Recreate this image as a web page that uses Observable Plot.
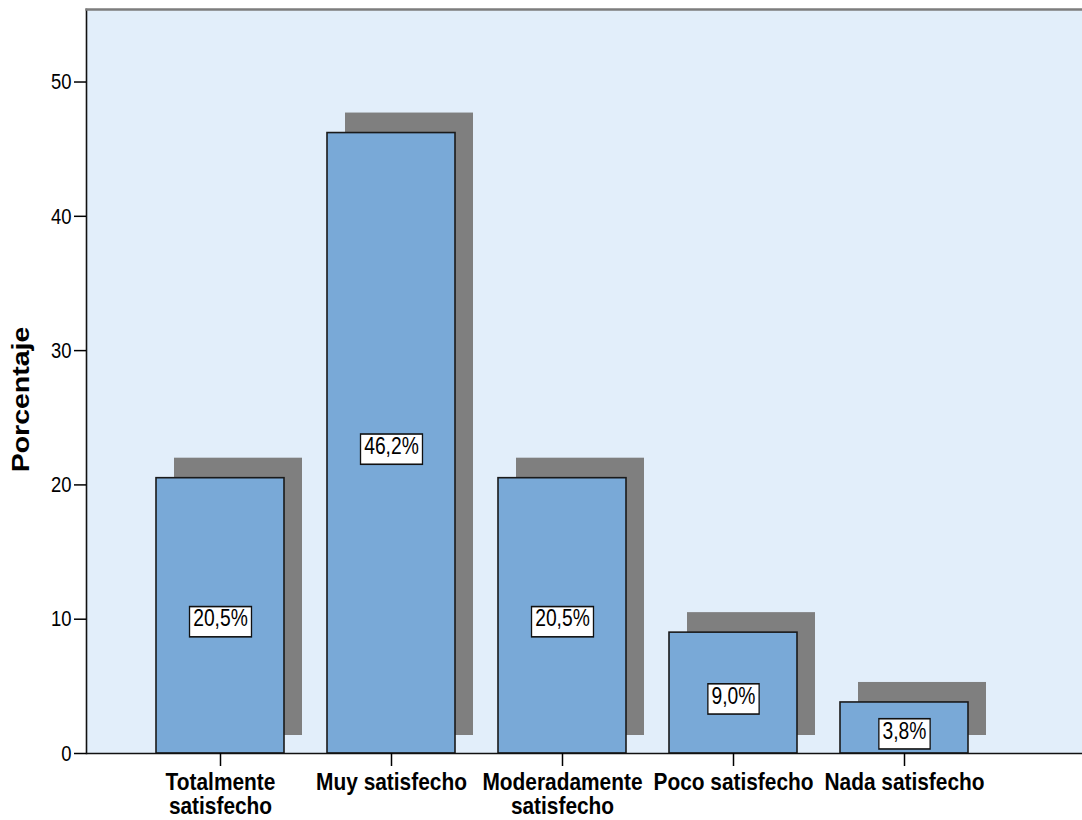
<!DOCTYPE html>
<html>
<head>
<meta charset="utf-8">
<script src="https://cdn.jsdelivr.net/npm/d3@7"></script>
<script src="https://cdn.jsdelivr.net/npm/@observablehq/plot@0.6"></script>
<style>
  html, body { margin: 0; padding: 0; background: #ffffff; }
  #chart svg { display: block; }
</style>
</head>
<body>
<div id="chart"></div>
<script>
// Nivel de satisfacción (porcentaje de respuestas)
const categories = [
  "Totalmente satisfecho",
  "Muy satisfecho",
  "Moderadamente satisfecho",
  "Poco satisfecho",
  "Nada satisfecho"
];
const tickLabels = [
  "Totalmente\nsatisfecho",
  "Muy satisfecho",
  "Moderadamente\nsatisfecho",
  "Poco satisfecho",
  "Nada satisfecho"
];
const percentages = [20.5, 46.2, 20.5, 9.0, 3.8];
const yTicks = [0, 10, 20, 30, 40, 50];

const data = categories.map((c, i) => ({ categoria: c, porcentaje: percentages[i] }));
const fmtPct = v => d3.format(".1f")(v).replace(".", ",") + "%";

const sans = "'Liberation Sans', Arial, Helvetica, sans-serif";

const chart = Plot.plot({
  width: 1082,
  height: 820,
  marginLeft: 86,
  marginRight: 0,
  marginTop: 9,
  marginBottom: 67,
  style: { fontFamily: sans, background: "#ffffff", color: "#000000", overflow: "visible" },
  x: { domain: categories, range: [86, 1037], paddingInner: 0.253, paddingOuter: 0.403, label: null },
  y: { domain: [0, 55.4], label: null },
  marks: [
    Plot.frame({ fill: "#e2eefa", stroke: null }),
    // drop shadow behind each bar
    Plot.barY(data, { x: "categoria", y: "porcentaje", fill: "#7f7f7f", dx: 18, dy: -18, insetTop: -2 }),
    Plot.barY(data, { x: "categoria", y: "porcentaje", fill: "#79a9d7", stroke: "#1a1a1a", strokeWidth: 1.6 }),
    Plot.ruleY([0], { stroke: "#111111", strokeWidth: 1.6 }),
    Plot.frame({ anchor: "left", stroke: "#111111", strokeWidth: 1.6 }),
    Plot.frame({ anchor: "top", stroke: "#7d7d7d", strokeWidth: 2.5 }),
    Plot.axisY({ ticks: yTicks, tickSize: 12, tickPadding: 3, fontSize: 22.5, strokeWidth: 1.5, tickFormat: d => d, label: null }),
    Plot.axisX({
      tickSize: 13, tickPadding: 7, fontSize: 24, fontWeight: "bold", lineHeight: 0.98, strokeWidth: 1.5,
      tickFormat: c => tickLabels[categories.indexOf(c)], label: null
    }),
    Plot.text(data, {
      x: "categoria", y: d => d.porcentaje / 2, text: d => fmtPct(d.porcentaje),
      dy: 3, fontSize: 23.5, fill: "#000000"
    }),
    Plot.text(["Porcentaje"], {
      text: d => d, frameAnchor: "left", textAnchor: "middle", dx: -65, dy: 18, rotate: -90,
      fontWeight: "bold", fontSize: 28.5, fill: "#000000"
    })
  ]
});

document.getElementById("chart").append(chart);

// narrow lettering: squeeze every text horizontally about its anchor
d3.select(chart).selectAll("text").each(function () {
  const sx = /satisfecho/.test(this.textContent) ? 0.87 : 0.82;
  const t = this.getAttribute("transform");
  if (t && t.includes("rotate(")) {
    this.setAttribute("transform", t.replace("rotate(", `scale(${sx},1) rotate(`));
  } else if (t) {
    this.setAttribute("transform", `${t} scale(${sx},1)`);
  } else {
    const x = +this.getAttribute("x") || 0, y = +this.getAttribute("y") || 0;
    this.setAttribute("x", 0);
    this.setAttribute("y", 0);
    this.setAttribute("transform", `translate(${x},${y}) scale(${sx},1)`);
  }
});

// white boxes with a black border behind the value labels
const svgNS = "http://www.w3.org/2000/svg";
d3.select(chart).selectAll("text").filter(function () {
  return /%$/.test(this.textContent);
}).each(function () {
  const b = this.getBBox();
  const r = document.createElementNS(svgNS, "rect");
  r.setAttribute("x", b.x - 4.5);
  r.setAttribute("y", b.y + 1);
  r.setAttribute("width", b.width + 9);
  r.setAttribute("height", b.height + 4);
  r.setAttribute("fill", "#ffffff");
  r.setAttribute("stroke", "#111111");
  r.setAttribute("stroke-width", 1.6);
  const t = this.getAttribute("transform");
  if (t) r.setAttribute("transform", t);
  this.parentNode.insertBefore(r, this);
});
</script>
</body>
</html>
